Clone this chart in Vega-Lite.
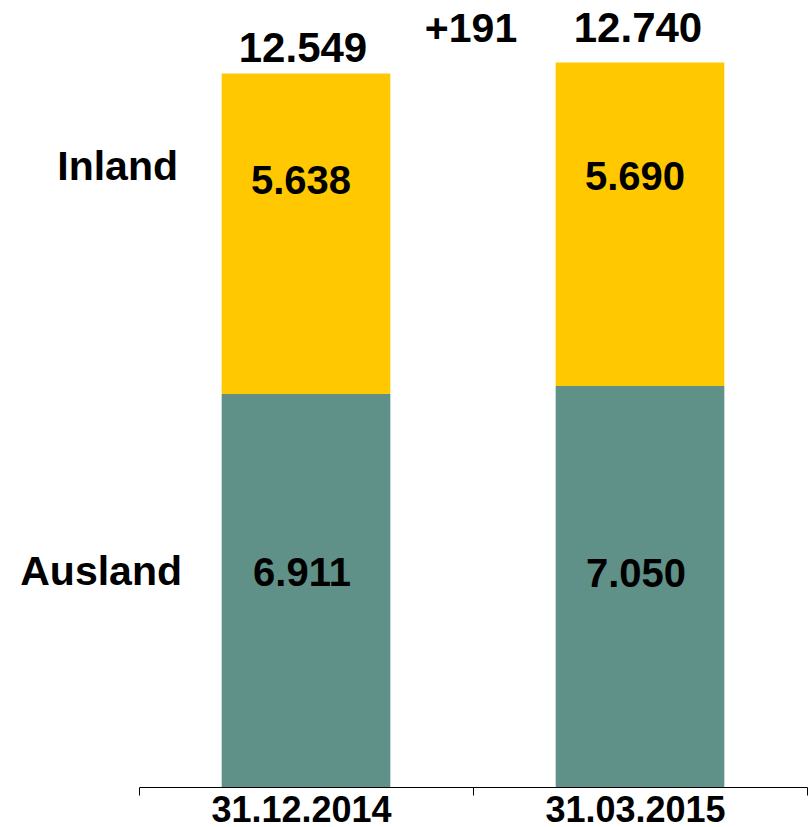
{
  "$schema": "https://vega.github.io/schema/vega-lite/v6.json",
  "width": 668,
  "height": 787,
  "autosize": {"type": "none"},
  "padding": {"left": 139, "top": 0, "right": 3, "bottom": 40},
  "background": "white",
  "config": {
    "locale": {"number": {"decimal": ",", "thousands": ".", "grouping": [3], "currency": ["", " €"]}},
    "view": {"stroke": null},
    "font": "Liberation Sans",
    "axisX": {
      "domainColor": "black",
      "domainWidth": 1,
      "tickColor": "black",
      "tickWidth": 1,
      "tickSize": 8,
      "tickBand": "extent",
      "labelFont": "Liberation Sans",
      "labelFontSize": 36,
      "labelFontWeight": "bold",
      "labelColor": "black",
      "labelAngle": 0,
      "labelPadding": -2,
      "labelOffset": -5,
      "labelLimit": 0,
      "labelOverlap": false,
      "grid": false
    }
  },
  "datasets": {
    "segments": [
      {"date": "31.12.2014", "series": "Ausland", "order": 1, "value": 6911},
      {"date": "31.12.2014", "series": "Inland", "order": 2, "value": 5638},
      {"date": "31.03.2015", "series": "Ausland", "order": 1, "value": 7050},
      {"date": "31.03.2015", "series": "Inland", "order": 2, "value": 5690}
    ],
    "change": [
      {"date": "31.03.2015", "change": 191, "total": 12740}
    ]
  },
  "layer": [
    {
      "data": {"name": "segments"},
      "transform": [
        {"stack": "value", "groupby": ["date"], "sort": [{"field": "order", "order": "ascending"}], "as": ["v0", "v1"]}
      ],
      "mark": {"type": "bar", "width": {"band": 0.505}},
      "encoding": {
        "x": {"field": "date", "type": "nominal", "title": null, "sort": ["31.12.2014", "31.03.2015"], "scale": {"paddingInner": 0, "paddingOuter": 0}},
        "y": {"field": "v1", "type": "quantitative", "axis": null, "scale": {"domain": [0, 13840], "nice": false}},
        "y2": {"field": "v0"},
        "color": {"field": "series", "type": "nominal", "legend": null, "scale": {"domain": ["Ausland", "Inland"], "range": ["#5F9189", "#FFC800"]}}
      }
    },
    {
      "data": {"name": "segments"},
      "transform": [
        {"stack": "value", "groupby": ["date"], "sort": [{"field": "order", "order": "ascending"}], "as": ["v0", "v1"]},
        {"calculate": "(datum.v0 + datum.v1) / 2", "as": "mid"},
        {"filter": "datum.series === 'Inland'"}
      ],
      "mark": {"type": "text", "fontSize": 40, "fontWeight": "bold", "color": "black", "baseline": "middle", "dy": {"expr": "datum.date === '31.12.2014' ? -52 : -46"}, "dx": -5},
      "encoding": {
        "x": {"field": "date", "type": "nominal", "title": null, "sort": ["31.12.2014", "31.03.2015"], "scale": {"paddingInner": 0, "paddingOuter": 0}},
        "y": {"field": "mid", "type": "quantitative", "axis": null, "scale": {"domain": [0, 13840], "nice": false}},
        "text": {"field": "value", "type": "quantitative", "format": ",d"}
      }
    },
    {
      "data": {"name": "segments"},
      "transform": [
        {"stack": "value", "groupby": ["date"], "sort": [{"field": "order", "order": "ascending"}], "as": ["v0", "v1"]},
        {"calculate": "(datum.v0 + datum.v1) / 2", "as": "mid"},
        {"filter": "datum.series === 'Ausland'"}
      ],
      "mark": {"type": "text", "fontSize": 40, "fontWeight": "bold", "color": "black", "baseline": "middle", "dy": {"expr": "datum.date === '31.12.2014' ? -17 : -12"}, "dx": -4},
      "encoding": {
        "x": {"field": "date", "type": "nominal", "title": null, "sort": ["31.12.2014", "31.03.2015"], "scale": {"paddingInner": 0, "paddingOuter": 0}},
        "y": {"field": "mid", "type": "quantitative", "axis": null, "scale": {"domain": [0, 13840], "nice": false}},
        "text": {"field": "value", "type": "quantitative", "format": ",d"}
      }
    },
    {
      "data": {"name": "segments"},
      "transform": [
        {"stack": "value", "groupby": ["date"], "sort": [{"field": "order", "order": "ascending"}], "as": ["v0", "v1"]},
        {"calculate": "(datum.v0 + datum.v1) / 2", "as": "mid"},
        {"filter": "datum.series === 'Inland' && datum.date === '31.12.2014'"}
      ],
      "mark": {"type": "text", "fontSize": 41, "fontWeight": "bold", "color": "black", "baseline": "middle", "align": "right", "dy": -66, "dx": 39},
      "encoding": {
        "x": {"field": "date", "type": "nominal", "title": null, "bandPosition": 0, "sort": ["31.12.2014", "31.03.2015"], "scale": {"paddingInner": 0, "paddingOuter": 0}},
        "y": {"field": "mid", "type": "quantitative", "axis": null, "scale": {"domain": [0, 13840], "nice": false}},
        "text": {"field": "series", "type": "nominal"}
      }
    },
    {
      "data": {"name": "segments"},
      "transform": [
        {"stack": "value", "groupby": ["date"], "sort": [{"field": "order", "order": "ascending"}], "as": ["v0", "v1"]},
        {"calculate": "(datum.v0 + datum.v1) / 2", "as": "mid"},
        {"filter": "datum.series === 'Ausland' && datum.date === '31.12.2014'"}
      ],
      "mark": {"type": "text", "fontSize": 41, "fontWeight": "bold", "color": "black", "baseline": "middle", "align": "right", "dy": -18, "dx": 43},
      "encoding": {
        "x": {"field": "date", "type": "nominal", "title": null, "bandPosition": 0, "sort": ["31.12.2014", "31.03.2015"], "scale": {"paddingInner": 0, "paddingOuter": 0}},
        "y": {"field": "mid", "type": "quantitative", "axis": null, "scale": {"domain": [0, 13840], "nice": false}},
        "text": {"field": "series", "type": "nominal"}
      }
    },
    {
      "data": {"name": "segments"},
      "transform": [
        {"filter": "datum.date === '31.12.2014'"},
        {"aggregate": [{"op": "sum", "field": "value", "as": "total"}], "groupby": ["date"]}
      ],
      "mark": {"type": "text", "fontSize": 42, "fontWeight": "bold", "color": "black", "baseline": "alphabetic", "dy": -11, "dx": -3},
      "encoding": {
        "x": {"field": "date", "type": "nominal", "title": null, "sort": ["31.12.2014", "31.03.2015"], "scale": {"paddingInner": 0, "paddingOuter": 0}},
        "y": {"field": "total", "type": "quantitative", "axis": null, "scale": {"domain": [0, 13840], "nice": false}},
        "text": {"field": "total", "type": "quantitative", "format": ",d"}
      }
    },
    {
      "data": {"name": "segments"},
      "transform": [
        {"filter": "datum.date === '31.03.2015'"},
        {"aggregate": [{"op": "sum", "field": "value", "as": "total"}], "groupby": ["date"]}
      ],
      "mark": {"type": "text", "fontSize": 42, "fontWeight": "bold", "color": "black", "baseline": "alphabetic", "dy": -21, "dx": -2},
      "encoding": {
        "x": {"field": "date", "type": "nominal", "title": null, "sort": ["31.12.2014", "31.03.2015"], "scale": {"paddingInner": 0, "paddingOuter": 0}},
        "y": {"field": "total", "type": "quantitative", "axis": null, "scale": {"domain": [0, 13840], "nice": false}},
        "text": {"field": "total", "type": "quantitative", "format": ",d"}
      }
    },
    {
      "data": {"name": "change"},
      "mark": {"type": "text", "fontSize": 41, "fontWeight": "bold", "color": "black", "baseline": "alphabetic", "dy": -21, "dx": -2},
      "encoding": {
        "x": {"field": "date", "type": "nominal", "title": null, "bandPosition": 0, "sort": ["31.12.2014", "31.03.2015"], "scale": {"paddingInner": 0, "paddingOuter": 0}},
        "y": {"field": "total", "type": "quantitative", "axis": null, "scale": {"domain": [0, 13840], "nice": false}},
        "text": {"field": "change", "type": "quantitative", "format": "+,d"}
      }
    }
  ]
}
